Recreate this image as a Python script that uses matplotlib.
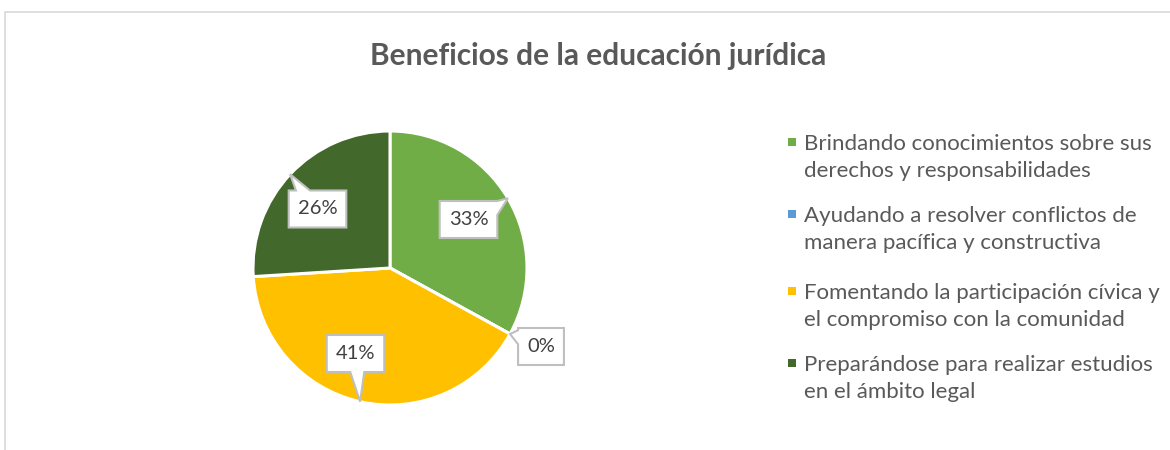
import numpy as np
import matplotlib
matplotlib.use("Agg")
import matplotlib.pyplot as plt
from matplotlib.patches import Rectangle, Polygon

plt.rcParams['font.family'] = ['Lato', 'DejaVu Sans']

title = "Beneficios de la educación jurídica"
categories = [
    "Brindando conocimientos sobre sus\nderechos y responsabilidades",
    "Ayudando a resolver conflictos de\nmanera pacífica y constructiva",
    "Fomentando la participación cívica y\nel compromiso con la comunidad",
    "Preparándose para realizar estudios\nen el ámbito legal",
]
values = [33, 0, 41, 26]
labels = ["33%", "0%", "41%", "26%"]
colors = ["#70AD47", "#5B9BD5", "#FFC000", "#43682B"]

W, H = 1170, 450
fig = plt.figure(figsize=(W / 100, H / 100), dpi=100)
fig.patch.set_facecolor("white")

def fx(px):
    return px / W

def fy(py):
    return 1 - py / H

# chart area border
fig.patches.append(Rectangle((fx(5), fy(460)), fx(1180) - fx(5), fy(12) - fy(460),
                             transform=fig.transFigure, fill=False,
                             ec="#D9D9D9", lw=1.2))

fig.text(fx(598), fy(56), title, ha="center", va="center", fontsize=21.5,
         fontweight="bold", color="#595959")

# pie axes: 1 data unit = 1 pixel
cx, cy, half = 390, 268, 160
ax = fig.add_axes([fx(cx - half), fy(cy + half), 2 * half / W, 2 * half / H])
R = 137
wedges, _ = ax.pie(values, colors=colors, startangle=90, counterclock=False,
                   radius=R, wedgeprops=dict(edgecolor="white", linewidth=2.2))
ax.set_xlim(-half, half)
ax.set_ylim(-half, half)
ax.set_aspect("equal")
ax.axis("off")


def callout_poly(bx, by, hw, hh, tx, ty, bw=7):
    dx, dy = tx - bx, ty - by
    L, Rr, B, T = bx - hw, bx + hw, by - hh, by + hh
    tip = (tx, ty)
    if abs(dx) * hh > abs(dy) * hw:
        p = by + dy * hw / abs(dx)
        p = min(max(p, B + bw), T - bw)
        if dx > 0:
            pts = [(L, B), (Rr, B), (Rr, p - bw), tip, (Rr, p + bw), (Rr, T), (L, T)]
        else:
            pts = [(L, B), (Rr, B), (Rr, T), (L, T), (L, p + bw), tip, (L, p - bw)]
    else:
        p = bx + dx * hh / abs(dy)
        p = min(max(p, L + bw), Rr - bw)
        if dy > 0:
            pts = [(L, B), (Rr, B), (Rr, T), (p + bw, T), tip, (p - bw, T), (L, T)]
        else:
            pts = [(L, B), (p - bw, B), tip, (p + bw, B), (Rr, B), (Rr, T), (L, T)]
    return pts


renderer = fig.canvas.get_renderer()
label_pos = [(78.5, 48.5), (151, -78.5), (-34.5, -85.5), (-72.5, 59)]
for w, lab, (lx, ly) in zip(wedges, labels, label_pos):
    ang = np.deg2rad((w.theta1 + w.theta2) / 2)
    tx, ty = R * np.cos(ang), R * np.sin(ang)
    t = ax.text(lx, ly, lab, ha="center", va="center", fontsize=14.5,
                color="#404040", zorder=6, clip_on=False)
    tw = t.get_window_extent(renderer).width
    hw = tw / 2 + 9
    poly = Polygon(callout_poly(lx, ly, hw, 18.5, tx, ty), closed=True,
                   fc="white", ec="#BFBFBF", lw=1.5, zorder=5, joinstyle="miter",
                   clip_on=False)
    ax.add_patch(poly)

# legend
leg_y = [142, 214, 291, 363]
for c, cat, y in zip(colors, categories, leg_y):
    fig.patches.append(Rectangle((fx(788), fy(y + 4)), 8 / W, 8 / H,
                                 transform=fig.transFigure, fc=c, ec="none"))
    fig.text(fx(804), fy(y - 8), cat, ha="left", va="top", fontsize=16,
             color="#595959", linespacing=1.46)

fig.savefig("out.png", dpi=100, facecolor="white")
